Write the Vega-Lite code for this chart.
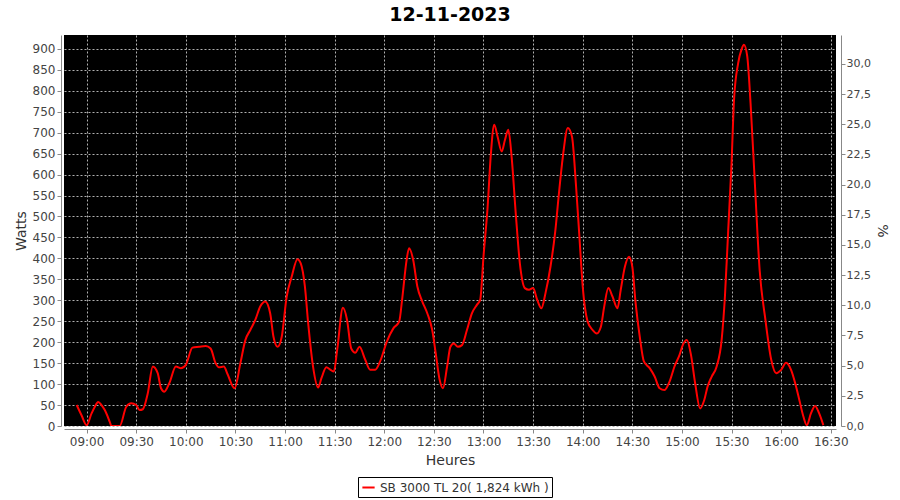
{
  "$schema": "https://vega.github.io/schema/vega-lite/v6.json",
  "autosize": {"type": "none"},
  "padding": {"left": 64, "top": 35, "right": 64, "bottom": 74},
  "width": 772,
  "height": 391,
  "background": "white",
  "title": {"text": "12-11-2023", "font": "DejaVu Sans", "fontSize": 19, "fontWeight": "bold", "color": "#000000", "anchor": "middle", "offset": 10},
  "config": {
    "view": {"fill": "#000000", "stroke": null},
    "axis": {"labelFont": "DejaVu Sans", "titleFont": "DejaVu Sans", "labelColor": "#444444", "titleColor": "#333333", "domainColor": "#888888", "tickColor": "#888888", "gridColor": "#b0b0b0", "gridDash": [2, 2], "gridWidth": 1, "tickSize": 4, "titleFontWeight": "normal"},
    "legend": {"labelFont": "DejaVu Sans"}
  },
  "data": {"values": [
    {"t": "2023-11-12T08:54:00", "w": 50},
    {"t": "2023-11-12T08:57:00", "w": 25},
    {"t": "2023-11-12T09:00:00", "w": 2},
    {"t": "2023-11-12T09:03:00", "w": 30},
    {"t": "2023-11-12T09:05:00", "w": 46},
    {"t": "2023-11-12T09:07:00", "w": 57},
    {"t": "2023-11-12T09:09:00", "w": 50},
    {"t": "2023-11-12T09:11:00", "w": 38},
    {"t": "2023-11-12T09:14:00", "w": 10},
    {"t": "2023-11-12T09:15:00", "w": 0},
    {"t": "2023-11-12T09:20:00", "w": 0},
    {"t": "2023-11-12T09:24:00", "w": 46},
    {"t": "2023-11-12T09:27:00", "w": 54},
    {"t": "2023-11-12T09:30:00", "w": 50},
    {"t": "2023-11-12T09:32:00", "w": 38},
    {"t": "2023-11-12T09:34:00", "w": 40},
    {"t": "2023-11-12T09:37:00", "w": 78},
    {"t": "2023-11-12T09:40:00", "w": 142},
    {"t": "2023-11-12T09:43:00", "w": 126},
    {"t": "2023-11-12T09:45:00", "w": 90},
    {"t": "2023-11-12T09:47:00", "w": 82},
    {"t": "2023-11-12T09:50:00", "w": 102},
    {"t": "2023-11-12T09:54:00", "w": 142},
    {"t": "2023-11-12T09:57:00", "w": 138},
    {"t": "2023-11-12T10:00:00", "w": 146},
    {"t": "2023-11-12T10:04:00", "w": 187},
    {"t": "2023-11-12T10:08:00", "w": 189},
    {"t": "2023-11-12T10:12:00", "w": 191},
    {"t": "2023-11-12T10:15:00", "w": 185},
    {"t": "2023-11-12T10:18:00", "w": 150},
    {"t": "2023-11-12T10:20:00", "w": 140},
    {"t": "2023-11-12T10:23:00", "w": 142},
    {"t": "2023-11-12T10:25:00", "w": 126},
    {"t": "2023-11-12T10:29:30", "w": 90},
    {"t": "2023-11-12T10:33:00", "w": 150},
    {"t": "2023-11-12T10:36:00", "w": 205},
    {"t": "2023-11-12T10:39:00", "w": 229},
    {"t": "2023-11-12T10:42:00", "w": 253},
    {"t": "2023-11-12T10:45:00", "w": 285},
    {"t": "2023-11-12T10:48:00", "w": 297},
    {"t": "2023-11-12T10:51:00", "w": 269},
    {"t": "2023-11-12T10:53:00", "w": 213},
    {"t": "2023-11-12T10:55:30", "w": 189},
    {"t": "2023-11-12T10:58:00", "w": 213},
    {"t": "2023-11-12T11:01:00", "w": 309},
    {"t": "2023-11-12T11:04:00", "w": 356},
    {"t": "2023-11-12T11:07:30", "w": 398},
    {"t": "2023-11-12T11:09:30", "w": 388},
    {"t": "2023-11-12T11:12:00", "w": 333},
    {"t": "2023-11-12T11:14:00", "w": 245},
    {"t": "2023-11-12T11:17:00", "w": 140},
    {"t": "2023-11-12T11:20:00", "w": 92},
    {"t": "2023-11-12T11:22:00", "w": 114},
    {"t": "2023-11-12T11:25:00", "w": 140},
    {"t": "2023-11-12T11:27:30", "w": 134},
    {"t": "2023-11-12T11:29:30", "w": 130},
    {"t": "2023-11-12T11:31:30", "w": 181},
    {"t": "2023-11-12T11:35:00", "w": 282},
    {"t": "2023-11-12T11:37:30", "w": 253},
    {"t": "2023-11-12T11:40:00", "w": 185},
    {"t": "2023-11-12T11:42:30", "w": 175},
    {"t": "2023-11-12T11:45:00", "w": 189},
    {"t": "2023-11-12T11:48:30", "w": 158},
    {"t": "2023-11-12T11:51:30", "w": 134},
    {"t": "2023-11-12T11:54:30", "w": 134},
    {"t": "2023-11-12T11:57:30", "w": 154},
    {"t": "2023-11-12T12:01:30", "w": 201},
    {"t": "2023-11-12T12:05:30", "w": 233},
    {"t": "2023-11-12T12:09:00", "w": 249},
    {"t": "2023-11-12T12:11:00", "w": 309},
    {"t": "2023-11-12T12:13:30", "w": 396},
    {"t": "2023-11-12T12:15:00", "w": 424},
    {"t": "2023-11-12T12:17:30", "w": 396},
    {"t": "2023-11-12T12:20:00", "w": 333},
    {"t": "2023-11-12T12:23:00", "w": 297},
    {"t": "2023-11-12T12:26:00", "w": 269},
    {"t": "2023-11-12T12:29:00", "w": 229},
    {"t": "2023-11-12T12:31:00", "w": 177},
    {"t": "2023-11-12T12:33:30", "w": 110},
    {"t": "2023-11-12T12:35:30", "w": 90},
    {"t": "2023-11-12T12:38:00", "w": 142},
    {"t": "2023-11-12T12:40:00", "w": 189},
    {"t": "2023-11-12T12:42:00", "w": 197},
    {"t": "2023-11-12T12:44:30", "w": 189},
    {"t": "2023-11-12T12:47:00", "w": 193},
    {"t": "2023-11-12T12:50:00", "w": 229},
    {"t": "2023-11-12T12:53:00", "w": 269},
    {"t": "2023-11-12T12:56:00", "w": 289},
    {"t": "2023-11-12T12:58:00", "w": 301},
    {"t": "2023-11-12T13:00:00", "w": 404},
    {"t": "2023-11-12T13:02:30", "w": 523},
    {"t": "2023-11-12T13:04:30", "w": 651},
    {"t": "2023-11-12T13:06:30", "w": 719},
    {"t": "2023-11-12T13:08:30", "w": 691},
    {"t": "2023-11-12T13:11:00", "w": 655},
    {"t": "2023-11-12T13:13:00", "w": 683},
    {"t": "2023-11-12T13:15:00", "w": 707},
    {"t": "2023-11-12T13:17:00", "w": 643},
    {"t": "2023-11-12T13:19:30", "w": 508},
    {"t": "2023-11-12T13:22:00", "w": 388},
    {"t": "2023-11-12T13:25:00", "w": 329},
    {"t": "2023-11-12T13:27:30", "w": 325},
    {"t": "2023-11-12T13:30:00", "w": 329},
    {"t": "2023-11-12T13:32:30", "w": 301},
    {"t": "2023-11-12T13:35:00", "w": 281},
    {"t": "2023-11-12T13:37:30", "w": 317},
    {"t": "2023-11-12T13:40:30", "w": 380},
    {"t": "2023-11-12T13:43:30", "w": 468},
    {"t": "2023-11-12T13:45:30", "w": 550},
    {"t": "2023-11-12T13:48:00", "w": 643},
    {"t": "2023-11-12T13:51:00", "w": 711},
    {"t": "2023-11-12T13:53:30", "w": 691},
    {"t": "2023-11-12T13:56:00", "w": 571},
    {"t": "2023-11-12T13:58:00", "w": 452},
    {"t": "2023-11-12T14:00:00", "w": 333},
    {"t": "2023-11-12T14:03:00", "w": 249},
    {"t": "2023-11-12T14:06:00", "w": 229},
    {"t": "2023-11-12T14:08:30", "w": 221},
    {"t": "2023-11-12T14:11:00", "w": 237},
    {"t": "2023-11-12T14:13:00", "w": 285},
    {"t": "2023-11-12T14:15:30", "w": 329},
    {"t": "2023-11-12T14:18:00", "w": 309},
    {"t": "2023-11-12T14:21:00", "w": 281},
    {"t": "2023-11-12T14:23:00", "w": 325},
    {"t": "2023-11-12T14:25:30", "w": 380},
    {"t": "2023-11-12T14:28:00", "w": 404},
    {"t": "2023-11-12T14:30:00", "w": 380},
    {"t": "2023-11-12T14:32:00", "w": 293},
    {"t": "2023-11-12T14:34:30", "w": 213},
    {"t": "2023-11-12T14:37:00", "w": 154},
    {"t": "2023-11-12T14:40:30", "w": 138},
    {"t": "2023-11-12T14:43:30", "w": 118},
    {"t": "2023-11-12T14:46:30", "w": 90},
    {"t": "2023-11-12T14:49:30", "w": 86},
    {"t": "2023-11-12T14:52:30", "w": 106},
    {"t": "2023-11-12T14:55:30", "w": 142},
    {"t": "2023-11-12T14:58:30", "w": 169},
    {"t": "2023-11-12T15:00:30", "w": 193},
    {"t": "2023-11-12T15:03:00", "w": 205},
    {"t": "2023-11-12T15:05:30", "w": 169},
    {"t": "2023-11-12T15:08:00", "w": 102},
    {"t": "2023-11-12T15:11:00", "w": 42},
    {"t": "2023-11-12T15:13:30", "w": 62},
    {"t": "2023-11-12T15:15:30", "w": 94},
    {"t": "2023-11-12T15:18:00", "w": 118},
    {"t": "2023-11-12T15:21:00", "w": 142},
    {"t": "2023-11-12T15:24:00", "w": 205},
    {"t": "2023-11-12T15:26:00", "w": 309},
    {"t": "2023-11-12T15:28:00", "w": 468},
    {"t": "2023-11-12T15:30:00", "w": 627},
    {"t": "2023-11-12T15:31:30", "w": 778},
    {"t": "2023-11-12T15:34:00", "w": 866},
    {"t": "2023-11-12T15:36:00", "w": 898},
    {"t": "2023-11-12T15:37:30", "w": 910},
    {"t": "2023-11-12T15:39:30", "w": 882},
    {"t": "2023-11-12T15:41:30", "w": 770},
    {"t": "2023-11-12T15:44:00", "w": 587},
    {"t": "2023-11-12T15:47:00", "w": 372},
    {"t": "2023-11-12T15:50:30", "w": 253},
    {"t": "2023-11-12T15:54:00", "w": 158},
    {"t": "2023-11-12T15:57:00", "w": 126},
    {"t": "2023-11-12T16:00:00", "w": 134},
    {"t": "2023-11-12T16:03:00", "w": 151},
    {"t": "2023-11-12T16:06:00", "w": 134},
    {"t": "2023-11-12T16:08:30", "w": 102},
    {"t": "2023-11-12T16:11:00", "w": 62},
    {"t": "2023-11-12T16:13:30", "w": 22},
    {"t": "2023-11-12T16:15:30", "w": 2},
    {"t": "2023-11-12T16:18:00", "w": 30},
    {"t": "2023-11-12T16:20:30", "w": 48},
    {"t": "2023-11-12T16:23:00", "w": 30},
    {"t": "2023-11-12T16:25:30", "w": 2}
  ]},
  "layer": [
    {
      "mark": {"type": "line", "strokeWidth": 2, "interpolate": "monotone", "clip": true},
      "encoding": {
        "x": {
          "field": "t", "type": "temporal",
          "scale": {"domain": ["2023-11-12T08:46:20", "2023-11-12T16:33:10"]},
          "axis": {"title": "Heures", "format": "%H:%M", "values": ["2023-11-12T09:00:00", "2023-11-12T09:30:00", "2023-11-12T10:00:00", "2023-11-12T10:30:00", "2023-11-12T11:00:00", "2023-11-12T11:30:00", "2023-11-12T12:00:00", "2023-11-12T12:30:00", "2023-11-12T13:00:00", "2023-11-12T13:30:00", "2023-11-12T14:00:00", "2023-11-12T14:30:00", "2023-11-12T15:00:00", "2023-11-12T15:30:00", "2023-11-12T16:00:00", "2023-11-12T16:30:00"], "labelFontSize": 12, "titleFontSize": 14, "offset": 3, "labelPadding": 3, "titlePadding": 6, "grid": true}
        },
        "y": {
          "field": "w", "type": "quantitative",
          "scale": {"domain": [0, 933], "nice": false},
          "axis": {"title": "Watts", "orient": "left", "values": [0, 50, 100, 150, 200, 250, 300, 350, 400, 450, 500, 550, 600, 650, 700, 750, 800, 850, 900], "labelFontSize": 12, "titleFontSize": 14, "offset": 3, "grid": true, "titlePadding": 4}
        },
        "color": {
          "datum": "SB 3000 TL 20( 1,824 kWh )",
          "type": "nominal",
          "scale": {"range": ["#ff0000"]},
          "legend": {"title": null, "orient": "none", "legendX": 294, "legendY": 442, "direction": "horizontal", "symbolType": "stroke", "symbolStrokeWidth": 2, "symbolSize": 150, "labelFontSize": 12, "labelLimit": 400, "labelColor": "#333333", "strokeColor": "#000000", "padding": 3, "cornerRadius": 0}
        }
      }
    },
    {
      "mark": {"type": "line", "opacity": 0, "clip": true},
      "encoding": {
        "x": {"field": "t", "type": "temporal"},
        "y": {
          "field": "w", "type": "quantitative",
          "scale": {"domain": [0, 933], "nice": false},
          "axis": {"title": "%", "orient": "right", "values": [0, 72, 144, 216, 288, 360, 432, 504, 576, 648, 720, 792, 864], "labelExpr": "replace(format(datum.value / 28.8, '.1f'), '.', ',')", "labelFontSize": 11, "titleFontSize": 14, "offset": 5, "labelPadding": 1, "grid": false, "titlePadding": 4}
        }
      }
    }
  ],
  "resolve": {"scale": {"y": "independent"}}
}
